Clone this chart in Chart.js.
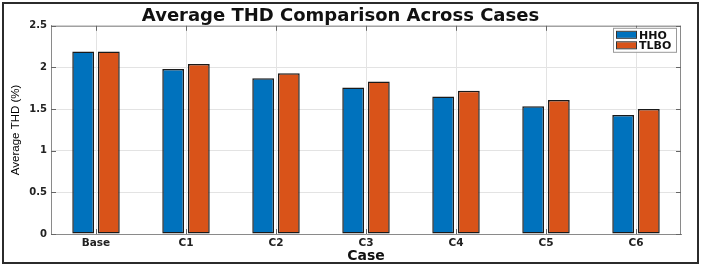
<!DOCTYPE html>
<html>
<head>
<meta charset="utf-8">
<script src="https://cdn.jsdelivr.net/npm/chart.js@4.4.1/dist/chart.umd.min.js"></script>
<style>
  html, body { margin: 0; padding: 0; background: #fff; }
  #wrap { width: 708px; height: 268px; position: relative; }
</style>
</head>
<body>
<div id="wrap"><canvas id="myChart"></canvas></div>
<script>
// data
const cases = ['Base', 'C1', 'C2', 'C3', 'C4', 'C5', 'C6'];
const hhoThd = [2.19, 1.98, 1.87, 1.76, 1.65, 1.535, 1.43];
const tlboThd = [2.19, 2.04, 1.93, 1.83, 1.72, 1.61, 1.50];
const yTicks = [0, 0.5, 1, 1.5, 2, 2.5];

const blue = '#0072BD';
const orange = '#D95319';
const axisGray = '#8a8a8a';

// matlab-ish box, inner ticks, legend inside axes and figure frame
const matlabBox = {
  id: 'matlabBox',
  afterDatasetsDraw(chart) {
    const ctx = chart.ctx;
    const a = chart.chartArea;
    const xs = chart.scales.x, ys = chart.scales.y;
    ctx.save();
    ctx.strokeStyle = axisGray;
    ctx.lineWidth = 1;
    ctx.beginPath();
    ctx.moveTo(a.left, a.top + 0.5); ctx.lineTo(a.right, a.top + 0.5);
    ctx.moveTo(a.right - 0.5, a.top); ctx.lineTo(a.right - 0.5, a.bottom);
    ctx.stroke();

    // inner ticks
    ctx.strokeStyle = '#666';
    ctx.beginPath();
    cases.forEach((c, i) => {
      const x = Math.round(xs.getPixelForValue(i)) + 0.5;
      ctx.moveTo(x, a.top); ctx.lineTo(x, a.top + 5);
      ctx.moveTo(x, a.bottom); ctx.lineTo(x, a.bottom - 5);
    });
    yTicks.forEach(v => {
      const y = Math.round(ys.getPixelForValue(v)) + 0.5;
      ctx.moveTo(a.left, y); ctx.lineTo(a.left + 5, y);
      ctx.moveTo(a.right, y); ctx.lineTo(a.right - 5, y);
    });
    ctx.stroke();

    // legend
    const lx = a.right - 68, ly = a.top + 2, lw = 63, lh = 24;
    ctx.fillStyle = '#fff';
    ctx.fillRect(lx, ly, lw, lh);
    ctx.strokeStyle = '#999';
    ctx.strokeRect(lx + 0.5, ly + 0.5, lw, lh);
    ctx.font = 'bold 11px "DejaVu Sans"';
    ctx.textBaseline = 'middle';
    chart.data.datasets.forEach((ds, i) => {
      const cy = ly + 7 + i * 10.5;
      ctx.fillStyle = ds.backgroundColor;
      ctx.fillRect(lx + 3, cy - 3, 20, 6);
      ctx.strokeStyle = '#333';
      ctx.strokeRect(lx + 3.5, cy - 3.5, 20, 7);
      ctx.fillStyle = '#111';
      ctx.fillText(ds.label, lx + 26, cy + 1);
    });

    // figure frame
    ctx.strokeStyle = '#2b2b2b';
    ctx.lineWidth = 2;
    ctx.strokeRect(3, 3, 695, 260);
    ctx.restore();
  }
};

const ctx = document.getElementById('myChart').getContext('2d');

new Chart(ctx, {
  type: 'bar',
  data: {
    labels: cases,
    datasets: [
      {
        label: 'HHO',
        data: hhoThd,
        backgroundColor: blue,
        borderColor: '#1a1a1a',
        borderWidth: 1.5,
        borderSkipped: false,
        categoryPercentage: 0.57,
        barPercentage: 0.85
      },
      {
        label: 'TLBO',
        data: tlboThd,
        backgroundColor: orange,
        borderColor: '#1a1a1a',
        borderWidth: 1.5,
        borderSkipped: false,
        categoryPercentage: 0.57,
        barPercentage: 0.85
      }
    ]
  },
  options: {
    responsive: true,
    maintainAspectRatio: false,
    animation: false,
    layout: { padding: { left: 0, right: 27, top: 0, bottom: 0 } },
    plugins: {
      legend: { display: false },
      tooltip: { enabled: false },
      title: {
        display: true,
        text: 'Average THD Comparison Across Cases',
        color: '#111',
        font: { family: '"DejaVu Sans"', size: 18, weight: 'bold', lineHeight: 1.1 },
        padding: { top: 6, bottom: 0 }
      }
    },
    scales: {
      x: {
        afterFit(scale) { scale.height = 34; },
        grid: { offset: false, color: '#e3e3e3', drawTicks: false },
        border: { color: axisGray },
        ticks: {
          color: '#222',
          padding: 3,
          font: { family: '"DejaVu Sans"', size: 10.5, weight: 'bold' }
        },
        title: {
          display: true,
          text: 'Case',
          color: '#111',
          font: { family: '"DejaVu Sans"', size: 14, weight: 'bold' },
          padding: { top: 0, bottom: 3 }
        }
      },
      y: {
        min: 0,
        max: 2.5,
        afterFit(scale) { scale.width = 51; },
        afterBuildTicks(scale) { scale.ticks = yTicks.map(v => ({ value: v })); },
        grid: { color: '#e3e3e3', drawTicks: false },
        border: { color: axisGray },
        ticks: {
          color: '#222',
          padding: 4,
          font: { family: '"DejaVu Sans"', size: 10, weight: 'bold' },
          callback: (v) => String(v)
        },
        title: {
          display: true,
          text: 'Average THD (%)',
          color: '#000',
          font: { family: '"Liberation Sans"', size: 11.5 },
          padding: { top: 9, bottom: 0 }
        }
      }
    }
  },
  plugins: [matlabBox]
});
</script>
</body>
</html>
